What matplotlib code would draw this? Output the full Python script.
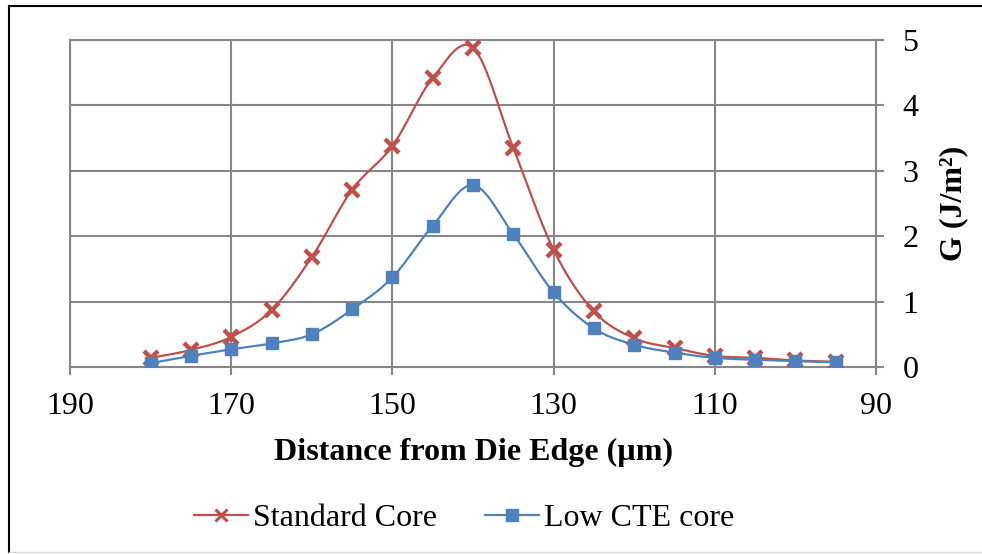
"""Energy release rate G vs distance from die edge, standard vs low-CTE core."""
import matplotlib

matplotlib.use("Agg")
import matplotlib.pyplot as plt
import numpy as np
from matplotlib.lines import Line2D

distance = [180, 175, 170, 165, 160, 155, 150, 145, 140,
            135, 130, 125, 120, 115, 110, 105, 100, 95]
standard_core = [0.14, 0.26, 0.46, 0.87, 1.68, 2.71, 3.38, 4.42, 4.88,
                 3.35, 1.79, 0.85, 0.44, 0.29, 0.17, 0.14, 0.10, 0.08]
low_cte_core = [0.06, 0.17, 0.27, 0.36, 0.50, 0.88, 1.37, 2.16, 2.78,
                2.03, 1.14, 0.59, 0.34, 0.22, 0.14, 0.11, 0.09, 0.07]
x_ticks = [190, 170, 150, 130, 110, 90]
y_ticks = [0, 1, 2, 3, 4, 5]

RED = "#C0504D"
BLUE = "#4F81BD"
GRID = "#878787"
FS = 23

plt.rcParams["font.family"] = ["Liberation Serif", "DejaVu Serif"]


def smooth(x, y, n=25):
    """Excel-style smoothed line: cubic Bezier with Catmull-Rom tangents."""
    p = np.column_stack([x, y]).astype(float)
    ext = np.vstack([p[0], p, p[-1]])
    t = np.linspace(0, 1, n)[:, None]
    segs = []
    for i in range(len(p) - 1):
        p0, p3 = p[i], p[i + 1]
        c1 = p0 + (ext[i + 2] - ext[i]) / 6
        c2 = p3 - (ext[i + 3] - ext[i + 1]) / 6
        seg = ((1 - t) ** 3 * p0 + 3 * (1 - t) ** 2 * t * c1
               + 3 * (1 - t) * t ** 2 * c2 + t ** 3 * p3)
        segs.append(seg if i == 0 else seg[1:])
    s = np.vstack(segs)
    return s[:, 0], s[:, 1]


fig = plt.figure(figsize=(9.82, 5.54), dpi=100)
ax = fig.add_axes([70 / 982, 1 - 367 / 554, 806 / 982, 327 / 554])

sx, sy = smooth(distance, standard_core)
ax.plot(sx, sy, color=RED, lw=1.6, zorder=3)
ax.plot(distance, standard_core, ls="none", marker="x", ms=10, mew=3.2,
        color=RED, zorder=4)
lx, ly = smooth(distance, low_cte_core)
ax.plot(lx, ly, color=BLUE, lw=1.6, zorder=3)
ax.plot(distance, low_cte_core, ls="none", marker="s", ms=8,
        color=BLUE, zorder=4)

ax.set_xlim(190, 90)
ax.set_ylim(0, 5)
ax.set_xticks(x_ticks)
ax.set_yticks(y_ticks)
ax.yaxis.tick_right()
ax.yaxis.set_label_position("right")
ax.grid(True, color=GRID, lw=1.5)
ax.set_axisbelow(True)
for sp in ax.spines.values():
    sp.set_color(GRID)
    sp.set_linewidth(1.5)
ax.tick_params(axis="both", direction="out", length=6, width=1.5,
               color=GRID, labelsize=FS)
ax.tick_params(axis="x", pad=12)
ax.tick_params(axis="y", pad=13)

ax.set_xlabel("Distance from Die Edge (µm)", fontsize=FS, fontweight="bold",
              labelpad=12)
ax.set_ylabel("G (J/m²)", fontsize=FS, fontweight="bold", labelpad=15)

handles = [
    Line2D([], [], color=RED, lw=1.6, marker="x", ms=8, mew=2.2),
    Line2D([], [], color=BLUE, lw=1.6, marker="s", ms=8),
]
fig.legend(handles, ["Standard Core", "Low CTE core"], loc="center",
           bbox_to_anchor=(464 / 982, 1 - 518 / 554), ncol=2, frameon=False,
           fontsize=FS, handlelength=1.7, handletextpad=0.15,
           columnspacing=1.5)

# outer chart-area border (left/top dark, bottom faint)
fig.add_artist(Line2D([8.5 / 982, 8.5 / 982], [1 - 6 / 554, 2 / 554],
                      color="black", lw=1.5, transform=fig.transFigure))
fig.add_artist(Line2D([8.5 / 982, 1.0], [1 - 6 / 554, 1 - 6 / 554],
                      color="black", lw=1.5, transform=fig.transFigure))
fig.add_artist(Line2D([8.5 / 982, 1.0], [2 / 554, 2 / 554],
                      color="#d9d9d9", lw=1.0, transform=fig.transFigure))

fig.savefig("out.png", dpi=100)
